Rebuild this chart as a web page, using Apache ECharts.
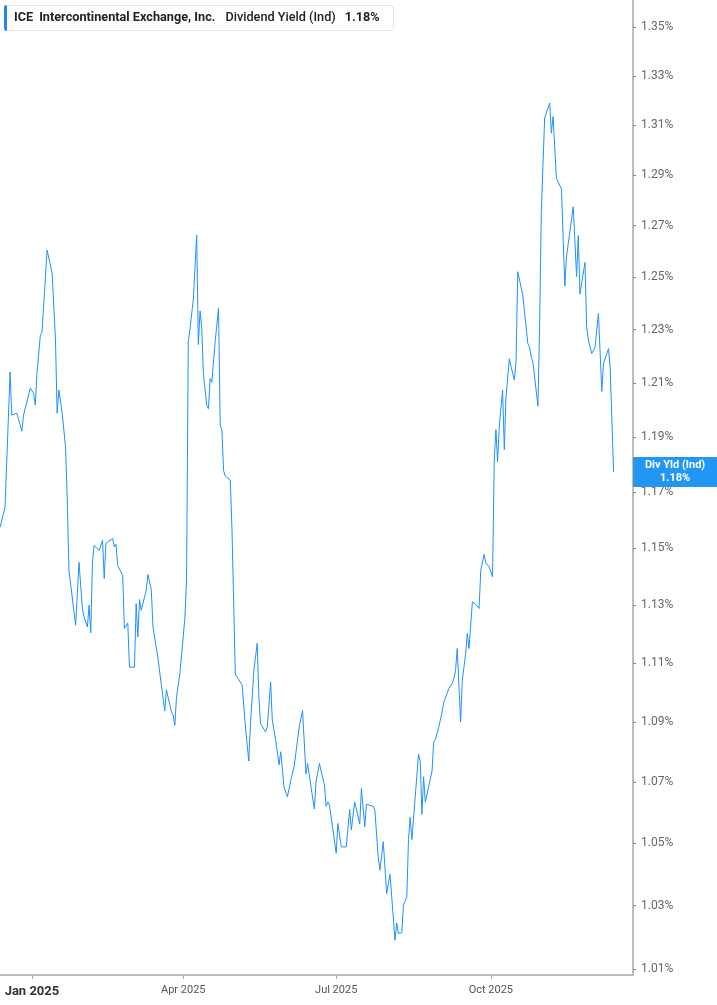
<!DOCTYPE html>
<html><head><meta charset="utf-8">
<script src="https://cdn.jsdelivr.net/npm/echarts@6/dist/echarts.min.js"></script>
<style>html,body{margin:0;padding:0;background:#fff}#c{width:717px;height:1005px}</style>
</head><body><div id="c"></div>
<script>
const dates = ['2024-12-13','2024-12-16','2024-12-19','2024-12-20','2024-12-23','2024-12-26','2024-12-27','2024-12-31',
'2025-01-02','2025-01-03','2025-01-04','2025-01-06','2025-01-07','2025-01-08','2025-01-10','2025-01-13','2025-01-15','2025-01-16','2025-01-17','2025-01-19','2025-01-21','2025-01-22','2025-01-23','2025-01-24','2025-01-27','2025-01-29','2025-01-31',
'2025-02-01','2025-02-03','2025-02-04','2025-02-05','2025-02-06','2025-02-07','2025-02-10','2025-02-12','2025-02-13','2025-02-14','2025-02-18','2025-02-19','2025-02-20','2025-02-21','2025-02-24','2025-02-25','2025-02-26','2025-02-27','2025-02-28',
'2025-03-03','2025-03-04','2025-03-05','2025-03-06','2025-03-07','2025-03-10','2025-03-11','2025-03-13','2025-03-14','2025-03-17','2025-03-18','2025-03-21','2025-03-22','2025-03-25','2025-03-26','2025-03-27','2025-03-28','2025-03-30','2025-03-31',
'2025-04-02','2025-04-03','2025-04-04','2025-04-05','2025-04-07','2025-04-09','2025-04-10','2025-04-11','2025-04-12','2025-04-13','2025-04-15','2025-04-16','2025-04-17','2025-04-18','2025-04-20','2025-04-22','2025-04-23','2025-04-24','2025-04-25','2025-04-26','2025-04-29','2025-04-30',
'2025-05-02','2025-05-04','2025-05-06','2025-05-08','2025-05-09','2025-05-10','2025-05-11','2025-05-13','2025-05-15','2025-05-16','2025-05-17','2025-05-20','2025-05-21','2025-05-23','2025-05-24','2025-05-26','2025-05-28','2025-05-29','2025-05-31',
'2025-06-02','2025-06-04','2025-06-06','2025-06-07','2025-06-09','2025-06-11','2025-06-13','2025-06-14','2025-06-16','2025-06-18','2025-06-19','2025-06-21','2025-06-24','2025-06-25','2025-06-26','2025-06-27',
'2025-07-01','2025-07-02','2025-07-03','2025-07-04','2025-07-07','2025-07-09','2025-07-10','2025-07-12','2025-07-15','2025-07-16','2025-07-18','2025-07-19','2025-07-23','2025-07-24','2025-07-26','2025-07-27','2025-07-29','2025-07-31',
'2025-08-02','2025-08-05','2025-08-06','2025-08-07','2025-08-09','2025-08-10','2025-08-12','2025-08-13','2025-08-14','2025-08-15','2025-08-19','2025-08-20','2025-08-21','2025-08-22','2025-08-23','2025-08-27','2025-08-28','2025-08-29','2025-08-31',
'2025-09-02','2025-09-03','2025-09-04','2025-09-06','2025-09-08','2025-09-09','2025-09-10','2025-09-11','2025-09-13','2025-09-14','2025-09-16','2025-09-17','2025-09-18','2025-09-20','2025-09-22','2025-09-24','2025-09-25','2025-09-26','2025-09-27','2025-09-28','2025-09-30',
'2025-10-02','2025-10-03','2025-10-04','2025-10-05','2025-10-06','2025-10-08','2025-10-09','2025-10-10','2025-10-11','2025-10-12','2025-10-13','2025-10-15','2025-10-16','2025-10-17','2025-10-20','2025-10-21','2025-10-23','2025-10-24','2025-10-25','2025-10-26','2025-10-29','2025-10-30','2025-10-31',
'2025-11-02','2025-11-05','2025-11-06','2025-11-07','2025-11-09','2025-11-12','2025-11-14','2025-11-15','2025-11-19','2025-11-21','2025-11-22','2025-11-23','2025-11-26','2025-11-27','2025-11-28','2025-11-30',
'2025-12-02','2025-12-04','2025-12-05','2025-12-06','2025-12-07','2025-12-10','2025-12-11','2025-12-13'];

const yields = [1.1573,1.1645,1.2140,1.1980,1.1987,1.1921,1.1980,1.2080,
1.2061,1.2017,1.2136,1.2279,1.2290,1.2283,1.2605,1.2516,1.2260,1.1987,1.2073,1.1987,1.1862,1.1677,1.1421,1.1428,1.1229,1.1449,1.1288,
1.1258,1.1223,1.1299,1.1203,1.1450,1.1509,1.1491,1.1527,1.1392,1.1517,1.1533,1.1503,1.1513,1.1438,1.1403,1.1218,1.1221,1.1237,1.1085,
1.1085,1.1304,1.1189,1.1318,1.1281,1.1351,1.1406,1.1353,1.1223,1.1114,1.1108,1.0936,1.1008,1.0933,1.0923,1.0888,1.0983,1.1063,1.1125,
1.1256,1.1392,1.2254,1.2301,1.2415,1.2664,1.2243,1.2371,1.2308,1.2134,1.2016,1.2003,1.2115,1.2102,1.2254,1.2382,1.1944,1.1924,1.1777,1.1757,1.1742,1.1566,
1.1061,1.1043,1.1025,1.0883,1.0879,1.0769,1.0894,1.1074,1.1167,1.0983,1.0894,1.0866,1.0883,1.1034,1.0905,1.0838,1.0756,1.0800,1.0682,
1.0651,1.0706,1.0752,1.0750,1.0883,1.0938,1.0726,1.0761,1.0684,1.0611,1.0700,1.0761,1.0690,1.0620,1.0634,1.0624,
1.0467,1.0564,1.0566,1.0488,1.0488,1.0610,1.0543,1.0634,1.0562,1.0679,1.0553,1.0627,1.0620,1.0607,1.0455,1.0413,1.0505,1.0338,
1.0400,1.0191,1.0245,1.0212,1.0214,1.0301,1.0327,1.0512,1.0584,1.0512,1.0792,1.0767,1.0594,1.0717,1.0633,1.0736,1.0832,1.0840,1.0882,
1.0933,1.0966,1.0966,1.1012,1.1029,1.1046,1.1074,1.1149,1.0899,1.1040,1.1131,1.1201,1.1149,1.1310,1.1302,1.1287,1.1421,1.1427,1.1477,1.1447,1.1433,
1.1398,1.1809,1.1927,1.1809,1.1937,1.2073,1.1854,1.2047,1.2054,1.2190,1.2161,1.2110,1.2184,1.2521,1.2431,1.2368,1.2247,1.2234,1.2196,1.2178,1.2013,1.2311,1.2750,
1.3128,1.3189,1.3067,1.3134,1.2887,1.2844,1.2466,1.2579,1.2774,1.2502,1.2661,1.2435,1.2557,1.2311,1.2260,1.2209,
1.2234,1.2361,1.2215,1.2068,1.2172,1.2228,1.2153,1.1772];

const yTickValues = [1.01,1.03,1.05,1.07,1.09,1.11,1.13,1.15,1.17,1.19,1.21,1.23,1.25,1.27,1.29,1.31,1.33,1.35];
const xTickDates = ['2025-01-01','2025-04-01','2025-07-01','2025-10-01'];
const monthNames = ['Jan','Feb','Mar','Apr','May','Jun','Jul','Aug','Sep','Oct','Nov','Dec'];
const ticker = 'ICE';
const company = 'Intercontinental Exchange, Inc.';
const metric = 'Dividend Yield (Ind)';
const shortMetric = 'Div Yld (Ind)';
const lastValue = yields[yields.length - 1];
const lastDate = dates[dates.length - 1];

const lg = v => Math.log10(v);
const ts = s => { const p = s.split('-').map(Number); return Date.UTC(p[0], p[1] - 1, p[2]); };
const DAY = 86400000;
const FONT = 'Roboto';
const TS = 12.7;

const chart = echarts.init(document.getElementById('c'));
chart.setOption({
  animation: false,
  textStyle: { fontFamily: FONT },
  title: {
    left: 4, top: 5,
    padding: [0, 14, 0, 0],
    backgroundColor: '#fff',
    borderColor: '#e4e4e4', borderWidth: 1, borderRadius: 3,
    text: '{bar|}{a|' + ticker + '}{b|' + company + '}{c|' + metric + '}{d|' + lastValue.toFixed(2) + '%}',
    textStyle: {
      fontFamily: FONT, fontSize: TS, color: '#222',
      rich: {
        bar: { width: 3, height: 26, backgroundColor: '#1e88e5', borderRadius: [3, 0, 0, 3] },
        a: { fontFamily: FONT, fontSize: TS, fontWeight: 'bold', color: '#222', padding: [0, 0, 0, 7] },
        b: { fontFamily: FONT, fontSize: TS, fontWeight: 'bold', color: '#222', padding: [0, 0, 0, 6] },
        c: { fontFamily: FONT, fontSize: TS, fontWeight: 500, color: '#222', padding: [0, 0, 0, 10] },
        d: { fontFamily: FONT, fontSize: TS, fontWeight: 'bold', color: '#222', padding: [0, 0, 0, 9] }
      }
    }
  },
  grid: { left: 0, right: 84, top: 0, bottom: 30 },
  xAxis: {
    type: 'value',
    min: ts('2024-12-13'),
    max: ts('2024-12-13') + 376.56 * DAY,
    axisLine: { show: true, onZero: false, lineStyle: { color: '#a8a8a8', width: 1.5 } },
    axisTick: { show: true, customValues: xTickDates.map(ts), length: 4, lineStyle: { color: '#a8a8a8' } },
    axisLabel: {
      customValues: xTickDates.map(ts),
      formatter: function (v) {
        const d = new Date(v);
        const s = monthNames[d.getUTCMonth()] + ' ' + d.getUTCFullYear();
        return d.getUTCMonth() === 0 ? '{y|' + s + '}' : s;
      },
      color: '#555', fontSize: 11, margin: 10, fontFamily: FONT,
      rich: { y: { fontFamily: FONT, fontWeight: 'bold', fontSize: 13, color: '#333' } }
    },
    splitLine: { show: false }
  },
  yAxis: {
    type: 'value',
    position: 'right',
    min: 0.003559,
    max: 0.133988,
    axisLine: { show: true, onZero: false, lineStyle: { color: '#a8a8a8', width: 1.5 } },
    axisTick: { show: true, customValues: yTickValues.map(lg), length: 3, lineStyle: { color: '#888' } },
    axisLabel: {
      customValues: yTickValues.map(lg),
      formatter: v => Math.pow(10, v).toFixed(2) + '%',
      color: '#666', fontSize: 12, margin: 8, fontFamily: FONT
    },
    splitLine: { show: false }
  },
  series: [{
    type: 'line', name: shortMetric,
    data: dates.map((d, i) => [ts(d), lg(yields[i])]),
    symbol: 'none', showSymbol: false, silent: true, clip: false,
    lineStyle: { color: '#1e90ff', width: 1 },
    markPoint: {
      silent: true,
      symbol: 'rect',
      symbolSize: [84, 30],
      symbolOffset: [61.5, 0],
      itemStyle: { color: '#2196f3' },
      label: {
        show: true, position: 'inside',
        formatter: () => shortMetric + '\n' + lastValue.toFixed(2) + '%',
        color: '#fff', fontWeight: 'bold', fontSize: 11, lineHeight: 13,
        align: 'center', fontFamily: FONT
      },
      data: [{ coord: [ts(lastDate), lg(lastValue)] }]
    }
  }]
});
</script></body></html>
